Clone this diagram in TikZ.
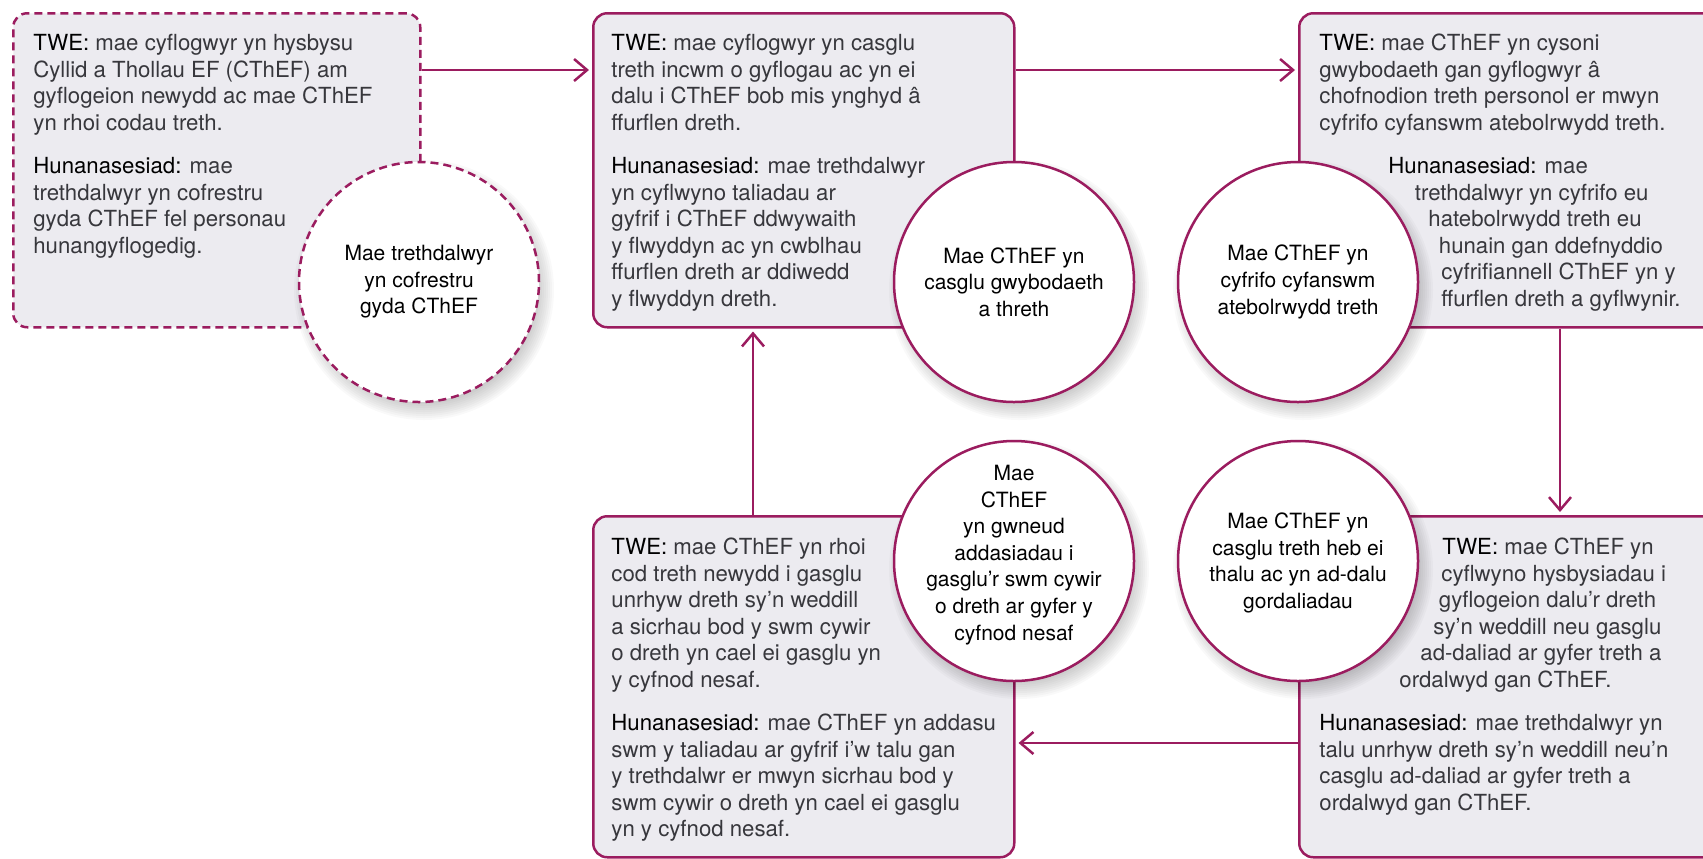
\documentclass[tikz,border=0pt]{standalone}
\usepackage{fontspec}
\setmainfont{TeX Gyre Heros}
\usetikzlibrary{arrows.meta,calc}
\definecolor{plum}{RGB}{155,28,95}
\definecolor{boxfill}{RGB}{236,235,240}
\definecolor{bodytxt}{RGB}{55,55,60}
\newcommand\lab[1]{\textcolor{black}{#1}}
\newcommand\firstline{\rule{0pt}{9pt}}
\begin{document}
\begin{tikzpicture}[x=0.5pt,y=-0.5pt,
  boxnode/.style={draw=plum, line width=1.25pt, fill=boxfill, rounded corners=7pt,
    rectangle, anchor=north west, inner sep=0pt},
  circnode/.style={draw=plum, line width=1.25pt, fill=white, circle,
    minimum size=120pt, inner sep=0pt},
  dashedline/.style={dash pattern=on 4pt off 2.5pt},
  arr/.style={draw=plum, line width=1.25pt, -{Straight Barb[length=6.5pt,width=11pt,line width=1.25pt]}, shorten >=1.5pt},
  bodytext/.style={anchor=north west, align=left, inner sep=0pt, text=bodytxt,
    font=\fontsize{11.1pt}{13.3pt}\selectfont},
  circtext/.style={align=center, inner sep=0pt, text=black,
    font=\fontsize{10.5pt}{13.3pt}\selectfont}
]
\useasboundingbox (0,0) rectangle (1703,858);
\clip (0,0) rectangle (1703,858);

% boxes
\node[boxnode, dashedline, minimum width=203.5pt, minimum height=157pt] (b1) at (12,12) {};
\node[boxnode, minimum width=210.5pt, minimum height=157pt] (b2) at (592,12) {};
\node[boxnode, minimum width=211pt, minimum height=157pt] (b3) at (1298,12) {};
\node[boxnode, minimum width=211pt, minimum height=170.5pt] (b4) at (1298,515) {};
\node[boxnode, minimum width=210.5pt, minimum height=170.5pt] (b5) at (592,515) {};

% helper coordinates
\coordinate (v1) at (1560,0);
\coordinate (v2) at (753,0);
\coordinate (h1) at (0,743);

% connectors
\draw[arr] ([yshift=-29pt]b1.north east) -- ([yshift=-29pt]b2.north west);
\draw[arr] ([yshift=-29pt]b2.north east) -- ([yshift=-29pt]b3.north west);
\draw[arr] (b3.south -| v1) -- (b4.north -| v1);
\draw[arr] (b4.west |- h1) -- (b5.east |- h1);
\draw[arr] (b5.north -| v2) -- (b2.south -| v2);

% box texts (y = first baseline - 18)
\node[bodytext] (t1a) at (33,32) {\firstline\lab{TWE:} mae cyflogwyr yn hysbysu\\Cyllid a Thollau EF (CThEF) am\\gyflogeion newydd ac mae CThEF\\yn rhoi codau treth.};
\node[bodytext] (t1b) at (33,155) {\firstline\lab{Hunanasesiad:} mae\\trethdalwyr yn cofrestru\\gyda CThEF fel personau\\hunangyflogedig.};

\node[bodytext] (t2a) at (611,32) {\firstline\lab{TWE:} mae cyflogwyr yn casglu\\treth incwm o gyflogau ac yn ei\\dalu i CThEF bob mis ynghyd â\\ffurflen dreth.};
\node[bodytext] (t2b) at (611,155) {\firstline\lab{Hunanasesiad:} mae trethdalwyr\\yn cyflwyno taliadau ar\\gyfrif i CThEF ddwywaith\\y flwyddyn ac yn cwblhau\\ffurflen dreth ar ddiwedd\\y flwyddyn dreth.};

\node[bodytext] (t3a) at (1319,32) {\firstline\lab{TWE:} mae CThEF yn cysoni\\gwybodaeth gan gyflogwyr â\\chofnodion treth personol er mwyn\\cyfrifo cyfanswm atebolrwydd treth.};
\node[bodytext] (t3b) at (1388,155) {\firstline\lab{Hunanasesiad:} mae\\\hspace*{13.25pt}trethdalwyr yn cyfrifo eu\\\hspace*{20pt}hatebolrwydd treth eu\\\hspace*{25.25pt}hunain gan ddefnyddio\\\hspace*{26.5pt}cyfrifiannell CThEF yn y\\\hspace*{26.5pt}ffurflen dreth a gyflwynir.};

\node[bodytext] (t4a) at (1399,536) {\firstline\hspace*{21.5pt}\lab{TWE:} mae CThEF yn\\\hspace*{21pt}cyflwyno hysbysiadau i\\\hspace*{19.75pt}gyflogeion dalu’r dreth\\\hspace*{17pt}sy’n weddill neu gasglu\\\hspace*{10.5pt}ad-daliad ar gyfer treth a\\ordalwyd gan CThEF.};
\node[bodytext] (t4b) at (1319,712) {\firstline\lab{Hunanasesiad:} mae trethdalwyr yn\\talu unrhyw dreth sy’n weddill neu’n\\casglu ad-daliad ar gyfer treth a\\ordalwyd gan CThEF.};

\node[bodytext] (t5a) at (611,536) {\firstline\lab{TWE:} mae CThEF yn rhoi\\cod treth newydd i gasglu\\unrhyw dreth sy’n weddill\\a sicrhau bod y swm cywir\\o dreth yn cael ei gasglu yn\\y cyfnod nesaf.};
\node[bodytext] (t5b) at (611,712) {\firstline\lab{Hunanasesiad:} mae CThEF yn addasu\\swm y taliadau ar gyfrif i’w talu gan\\y trethdalwr er mwyn sicrhau bod y\\swm cywir o dreth yn cael ei gasglu\\yn y cyfnod nesaf.};

% circle shadows
\foreach \cx/\cy in {419/282, 1014/282, 1298/282, 1298/561, 1014/561}{
  \foreach \r in {110,112,...,130}{
    \fill[black, opacity=0.022] (\cx+5,\cy+8) circle (\r);
  }
}

% circles
\node[circnode, dashedline] (c1) at (419,282) {};
\node[circnode] (c2) at (1014,282) {};
\node[circnode] (c3) at (1298,282) {};
\node[circnode] (c4) at (1298,561) {};
\node[circnode] (c5) at (1014,561) {};

\node[circtext] (ct1) at (c1) {Mae trethdalwyr\\yn cofrestru\\gyda CThEF};
\node[circtext] (ct2) at (c2) {Mae CThEF yn\\casglu gwybodaeth\\a threth};
\node[circtext] (ct3) at (c3) {Mae CThEF yn\\cyfrifo cyfanswm\\atebolrwydd treth};
\node[circtext] (ct4) at ([yshift=-1pt]c4) {Mae CThEF yn\\casglu treth heb ei\\thalu ac yn ad-dalu\\gordaliadau};
\node[circtext] (ct5) at ([yshift=3pt]c5) {Mae\\CThEF\\yn gwneud\\addasiadau i\\gasglu’r swm cywir\\o dreth ar gyfer y\\cyfnod nesaf};
\end{tikzpicture}
\end{document}
